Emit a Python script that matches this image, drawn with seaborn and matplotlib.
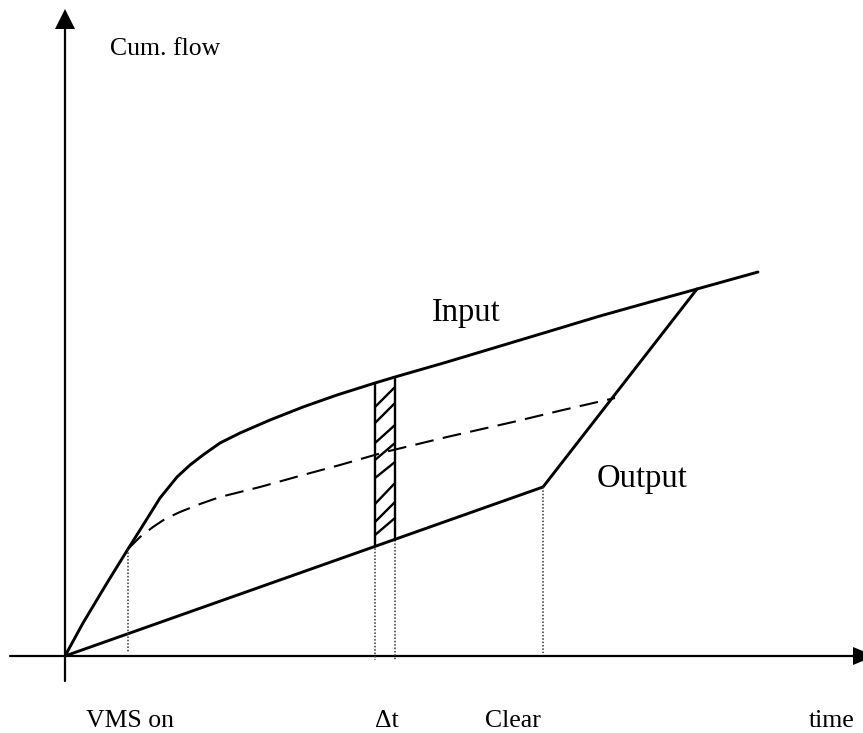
import numpy as np
import pandas as pd
import matplotlib
matplotlib.use("Agg")
import matplotlib.pyplot as plt
import seaborn as sns

# ---- data (time t, cumulative flow N) in diagram units ----
input_t = [0, 18, 42, 63, 75, 95, 112, 125, 138, 155, 175, 205, 238, 272, 310, 330,
           382, 432, 482, 535, 585, 632, 693]
input_n = [0, 33, 73, 107, 126, 158, 179, 191, 201, 213, 223, 236, 249, 261, 273, 279,
           294, 309, 324, 340, 354, 367, 384]

queue_t = [63, 75, 88, 100, 115, 135, 155, 195, 238, 275, 320, 382, 448, 498, 550]
queue_n = [107, 119, 129, 137, 144, 152, 159, 169, 181, 191, 204, 219, 234, 246, 258]

output_t = [0, 478, 632]
output_n = [0, 169, 367]

vms_t = 63
clear_t = 478
strip_t = [310, 330]
strip_lo = [111, 116]
strip_hi = [273, 279]
hatch_left = [249, 233, 213, 196, 178, 152, 134, 121]
hatch_right = [269, 253, 231, 213, 194, 173, 154, 138]

x_axis = [-55, 788]
y_axis = [-25, 627]

tick_labels = ["VMS on", "\u0394t", "Clear", "time"]
tick_x = [21, 310, 420, 744]

sns.set_theme(style="white")
plt.rcParams["font.family"] = ["Liberation Serif", "DejaVu Serif"]

fig = plt.figure(figsize=(8.63, 7.33), dpi=100)
ax = fig.add_axes([0, 0, 1, 1])
ax.set_xlim(-65, 798)
ax.set_ylim(-77, 656)
ax.axis("off")

k = "black"
# axes
ax.plot(x_axis, [0, 0], color=k, lw=1.6)
ax.plot([0, 0], y_axis, color=k, lw=1.6)
ax.fill([x_axis[1], x_axis[1], x_axis[1] + 22], [-9, 9, 0], color=k, lw=0)
ax.fill([-10, 10, 0], [y_axis[1], y_axis[1], y_axis[1] + 20], color=k, lw=0)

df_in = pd.DataFrame({"t": input_t, "N": input_n})
df_out = pd.DataFrame({"t": output_t, "N": output_n})

sns.lineplot(data=df_in, x="t", y="N", ax=ax, color=k, lw=2.1, sort=False, estimator=None)
sns.lineplot(data=df_out, x="t", y="N", ax=ax, color=k, lw=2.1, sort=False, estimator=None)
ax.plot(queue_t, queue_n, color=k, lw=1.5, dashes=(9, 4.5))

# dotted verticals
dot = dict(color="#333333", lw=1.1, ls=(0, (1, 1.2)))
ax.plot([vms_t, vms_t], [107, 3], **dot)
ax.plot([clear_t, clear_t], [169, 3], **dot)
for st, lo in zip(strip_t, strip_lo):
    ax.plot([st, st], [lo, -4], **dot)

# strip
for st, lo, hi in zip(strip_t, strip_lo, strip_hi):
    ax.plot([st, st], [lo, hi], color=k, lw=1.7)
for l, r in zip(hatch_left, hatch_right):
    ax.plot(strip_t, [l, r], color=k, lw=1.7)

# labels
ax.text(45, 601, "Cum. flow", fontsize=18.5, ha="left", va="baseline", color=k)
ax.text(367, 335, "Input", fontsize=23.5, ha="left", va="baseline", color=k)
ax.text(532, 169, "Output", fontsize=23.5, ha="left", va="baseline", color=k)
for lab, tx in zip(tick_labels, tick_x):
    ax.text(tx, -71, lab, fontsize=18.5, ha="left", va="baseline", color=k)

fig.savefig("out.png", dpi=100, facecolor="white")
